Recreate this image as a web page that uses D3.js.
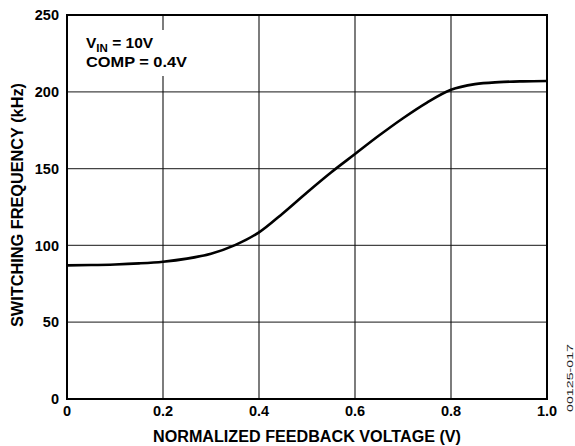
<!DOCTYPE html>
<html><head><meta charset="utf-8">
<script src="https://cdn.jsdelivr.net/npm/d3@7"></script>
<style>body{margin:0;background:#fff}svg{display:block}text{font-family:"Liberation Sans",Arial,sans-serif;font-weight:bold;fill:#000}</style>
</head><body><svg id="c" width="575" height="446"></svg>
<script>
const voltage = [0, 0.05, 0.1, 0.15, 0.2, 0.25, 0.3, 0.35, 0.4, 0.45, 0.5, 0.55, 0.6, 0.65, 0.7, 0.75, 0.8, 0.85, 0.9, 0.95, 1.0];
const frequency = [87.0, 87.2, 87.6, 88.3, 89.4, 91.4, 94.6, 100.2, 108.5, 121.0, 134.5, 147.5, 159.5, 171.5, 182.8, 193.0, 201.3, 205.0, 206.3, 206.8, 207.0];
const xTicks = [0, 0.2, 0.4, 0.6, 0.8, 1.0];
const xTickLabels = ["0", "0.2", "0.4", "0.6", "0.8", "1.0"];
const yTicks = [0, 50, 100, 150, 200, 250];

const svg = d3.select("#c");
const x = d3.scaleLinear().domain([0, 1]).range([67, 547]);
const y = d3.scaleLinear().domain([0, 250]).range([399, 15]);

// grid
svg.append("g").selectAll("line").data(yTicks.slice(1, -1)).join("line")
  .attr("x1", x(0)).attr("x2", x(1)).attr("y1", d => y(d)).attr("y2", d => y(d))
  .attr("stroke", "#444").attr("stroke-width", 1.3);
svg.append("g").selectAll("line").data(xTicks.slice(1, -1)).join("line")
  .attr("y1", y(0)).attr("y2", y(250)).attr("x1", d => x(d)).attr("x2", d => x(d))
  .attr("stroke", "#111").attr("stroke-width", 1.1);

// annotation background
svg.append("rect").attr("x", 80).attr("y", 30).attr("width", 115).attr("height", 46).attr("fill", "#fff");
const t1 = svg.append("text").attr("x", 86).attr("y", 48).attr("font-size", 15.5);
t1.append("tspan").text("V");
t1.append("tspan").attr("font-size", 11.5).attr("dy", 3.5).text("IN");
t1.append("tspan").attr("dy", -3.5).text(" = 10V");
svg.append("text").attr("x", 86).attr("y", 67).attr("font-size", 15.5)
  .attr("textLength", 101).attr("lengthAdjust", "spacingAndGlyphs").text("COMP = 0.4V");

// curve
svg.append("path").datum(voltage.map((v, i) => [v, frequency[i]]))
  .attr("d", d3.line().x(d => x(d[0])).y(d => y(d[1])).curve(d3.curveMonotoneX))
  .attr("fill", "none").attr("stroke", "#000").attr("stroke-width", 2.6);

// border
svg.append("rect").attr("x", x(0)).attr("y", y(250)).attr("width", x(1) - x(0)).attr("height", y(0) - y(250))
  .attr("fill", "none").attr("stroke", "#000").attr("stroke-width", 2);

// axes labels
svg.append("g").selectAll("text").data(yTicks).join("text")
  .attr("x", 59).attr("y", d => y(d)).attr("dy", "0.36em").attr("text-anchor", "end")
  .attr("font-size", 14.5).text(d => d);
svg.append("g").selectAll("text").data(xTicks).join("text")
  .attr("x", d => x(d)).attr("y", 416).attr("text-anchor", "middle")
  .attr("font-size", 14.5).text((d, i) => xTickLabels[i]);

svg.append("text").attr("x", 307).attr("y", 442).attr("text-anchor", "middle").attr("font-size", 16)
  .attr("textLength", 308).attr("lengthAdjust", "spacingAndGlyphs")
  .text("NORMALIZED FEEDBACK VOLTAGE (V)");
svg.append("text").attr("transform", "translate(23,205) rotate(-90)").attr("text-anchor", "middle").attr("font-size", 16)
  .attr("textLength", 244).attr("lengthAdjust", "spacingAndGlyphs")
  .text("SWITCHING FREQUENCY (kHz)");
svg.append("text").attr("transform", "translate(573,412) rotate(-90)").attr("font-size", 9.5)
  .attr("textLength", 68).attr("lengthAdjust", "spacingAndGlyphs")
  .style("font-weight", "normal").style("fill", "#222").text("00125-017");
</script></body></html>
